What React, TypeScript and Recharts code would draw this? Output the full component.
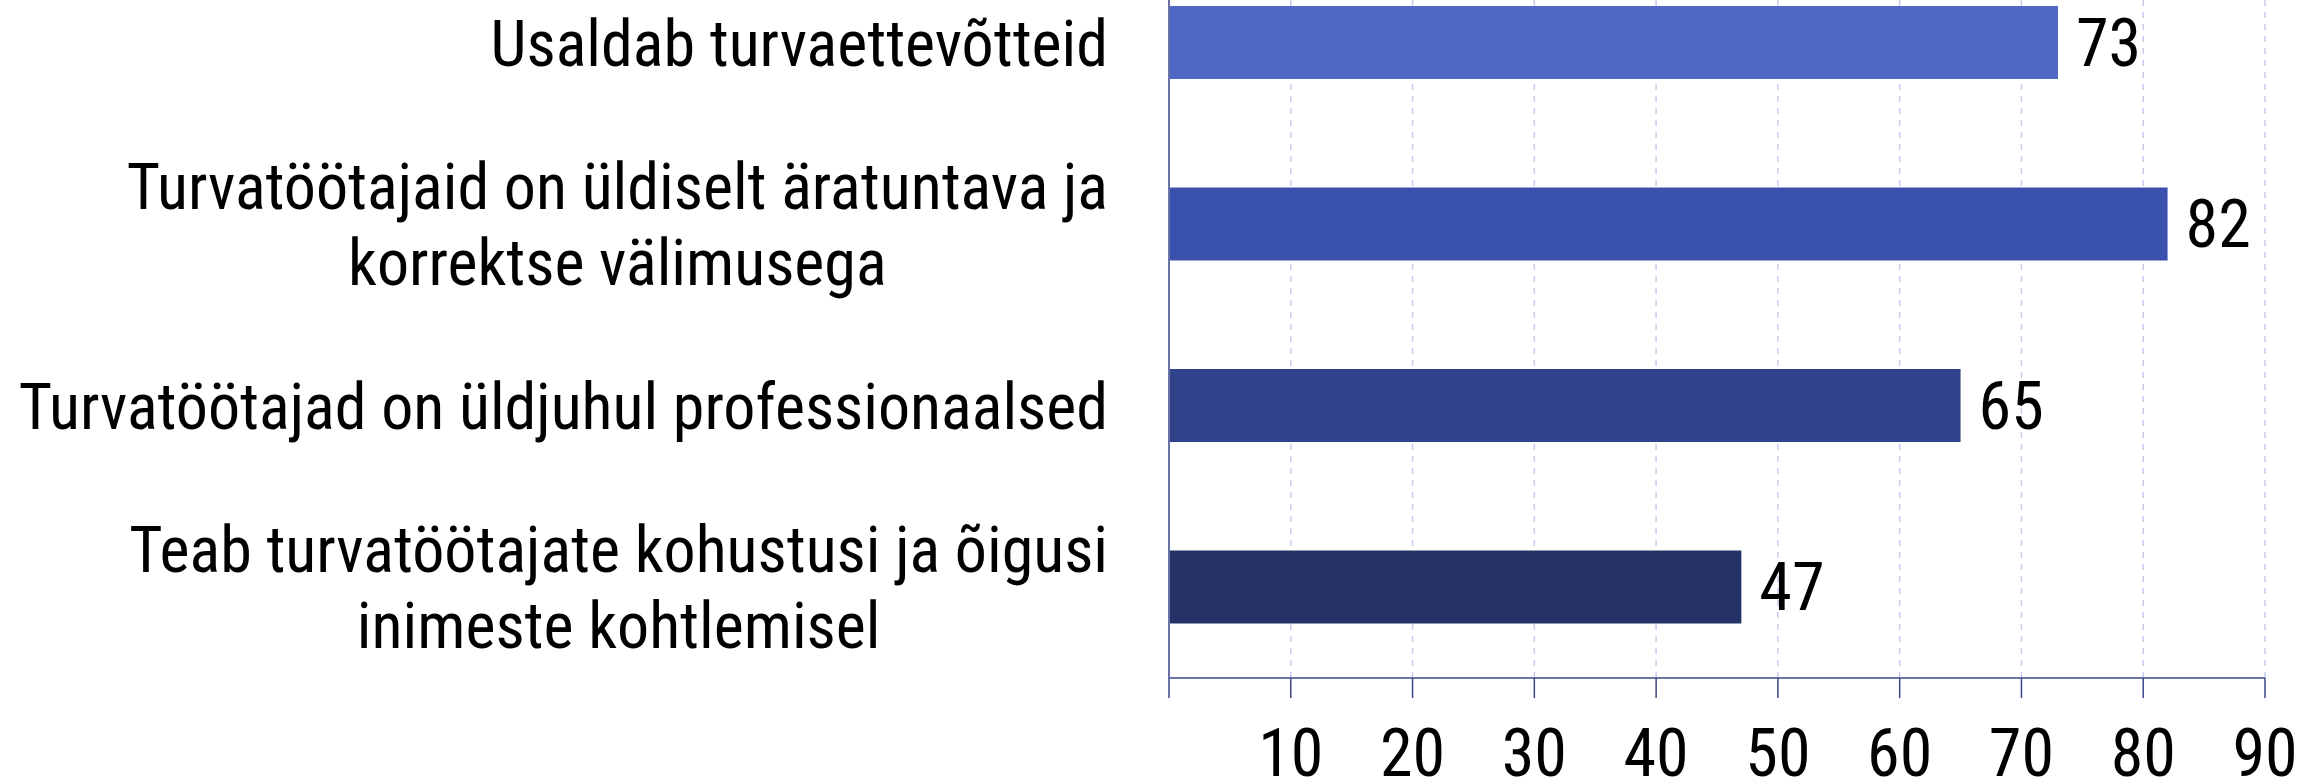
import React from 'react';
import { Bar, BarChart, CartesianGrid, Cell, LabelList, XAxis, YAxis } from 'recharts';

const categories = [
  'Usaldab turvaettevõtteid',
  'Turvatöötajaid on üldiselt äratuntava ja\nkorrektse välimusega',
  'Turvatöötajad on üldjuhul professionaalsed',
  'Teab turvatöötajate kohustusi ja õigusi\ninimeste kohtlemisel',
];
const values = [73, 82, 65, 47];
const xTicks = [0, 10, 20, 30, 40, 50, 60, 70, 80, 90];
const barColors = ['#4F68C4', '#3A52AD', '#30438A', '#253266'];

const data = categories.map((name, i) => ({ name, value: values[i] }));

const FONT = "'Liberation Sans Narrow', 'Roboto Condensed', 'DejaVu Sans Condensed', sans-serif";
const LABEL_RIGHT = 1108;
const LINE_H = 76;

let ctx: CanvasRenderingContext2D | null = null;
function measure(text: string, size: number) {
  if (!ctx) ctx = document.createElement('canvas').getContext('2d');
  if (!ctx) return text.length * size * 0.4;
  ctx.font = `${size}px ${FONT}`;
  return ctx.measureText(text).width;
}

function CategoryTick(props: any) {
  const { y, payload } = props;
  const lines = String(payload.value).split('\n');
  const w = Math.max(...lines.map((l) => measure(l, 64)));
  const cx = LABEL_RIGHT - w / 2;
  return (
    <g>
      {lines.map((l, i) => (
        <text
          key={i}
          x={cx}
          y={y + 23 + (i - (lines.length - 1) / 2) * LINE_H}
          textAnchor="middle"
          fontSize={64}
          fontFamily={FONT}
          fill="#000"
        >
          {l}
        </text>
      ))}
    </g>
  );
}

function ValueTick(props: any) {
  const { x, y, payload } = props;
  if (payload.value === 0) return null;
  return (
    <text x={x} y={y + 76} textAnchor="middle" fontSize={66} fontFamily={FONT} fill="#000">
      {payload.value}
    </text>
  );
}

export default function App() {
  return (
    <div style={{ position: 'absolute', left: 0, top: 0, width: 2300, height: 783, overflow: 'hidden', background: '#fff' }}>
      <div style={{ position: 'relative', top: -48 }}>
        <BarChart
          width={2300}
          height={831}
          data={data}
          layout="vertical"
          margin={{ top: 0, right: 35, bottom: 0, left: 0 }}
          barSize={73}
        >
          <CartesianGrid horizontal={false} stroke="#C5CCEE" strokeDasharray="6 6" strokeWidth={1.5} />
          <XAxis
            type="number"
            domain={[0, 90]}
            ticks={xTicks}
            height={105}
            tickSize={20}
            axisLine={{ stroke: '#3C4787', strokeWidth: 1.5 }}
            tickLine={{ stroke: '#3C4787', strokeWidth: 1.5 }}
            tick={<ValueTick />}
            interval={0}
          />
          <YAxis
            type="category"
            dataKey="name"
            width={1169}
            tickLine={false}
            axisLine={{ stroke: '#6A73A5', strokeWidth: 2 }}
            tick={<CategoryTick />}
            interval={0}
          />
          <Bar dataKey="value" isAnimationActive={false}>
            {data.map((d, i) => (
              <Cell key={d.name} fill={barColors[i]} />
            ))}
            <LabelList dataKey="value" position="right" offset={18} fontSize={66} fontFamily={FONT} fill="#000" />
          </Bar>
        </BarChart>
      </div>
    </div>
  );
}
